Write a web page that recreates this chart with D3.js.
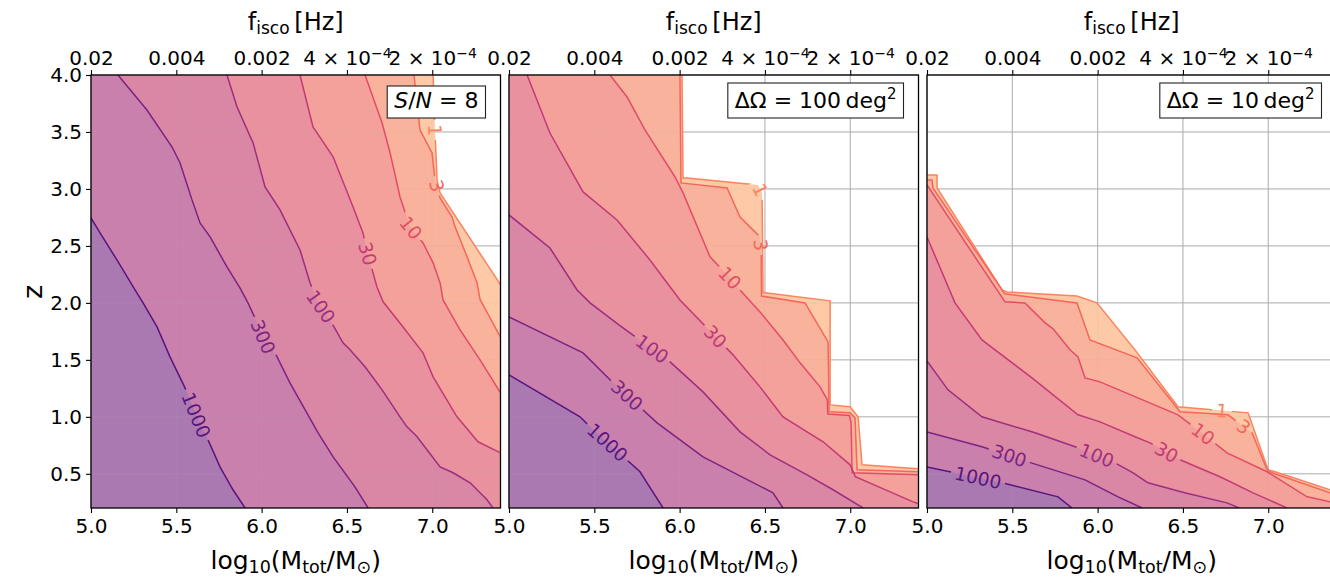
<!DOCTYPE html>
<html><head><meta charset="utf-8">
<script src="https://cdn.jsdelivr.net/npm/d3@7"></script>
<style>
body{margin:0;background:#fff}
svg{display:block}
text{font-family:"DejaVu Sans",sans-serif;fill:#000}
</style>
</head><body>
<svg id="c" width="1330" height="577"></svg>
<script>
// ---------------- data ----------------
const levels = [1, 3, 10, 30, 100, 300, 1000];
const levelLabels = ["1", "3", "10", "30", "100", "300", "1000"];
const xTicks = [5.0, 5.5, 6.0, 6.5, 7.0];
const yTicks = [0.5, 1.0, 1.5, 2.0, 2.5, 3.0, 3.5, 4.0];
const fiscoMantissa = ["0.02", "0.004", "0.002", "4 × 10", "2 × 10"];
const fiscoExponent = ["", "", "", "−4", "−4"];

// contour lines [log10 Mtot, z], one per level (1,3,10,30,100,300,1000)
const contoursSN8 = [
  [[7.005,4.0],[7.016,3.52],[7.028,3.08],[7.046,2.965],[7.40,2.16]],
  [[6.893,4.0],[6.928,3.518],[6.999,3.316],[7.016,3.079],[7.046,2.921],[7.116,2.754],[7.134,2.667],[7.204,2.404],[7.263,2.175],[7.28,2.03],[7.40,1.70]],
  [[6.606,4.0],[6.706,3.579],[6.753,3.316],[6.811,2.930],[6.870,2.667],[6.946,2.526],[7.005,2.351],[7.046,2.175],[7.063,2.026],[7.163,1.763],[7.280,1.500],[7.40,1.21]],
  [[6.225,4.0],[6.301,3.544],[6.419,3.281],[6.536,2.842],[6.594,2.614],[6.618,2.45],[6.676,2.14],[6.712,2.01],[6.829,1.789],[6.946,1.561],[7.005,1.351],[7.145,1.0],[7.268,0.781],[7.40,0.684]],
  [[5.797,4.0],[5.856,3.719],[5.950,3.404],[6.020,3.018],[6.108,2.816],[6.225,2.465],[6.284,2.175],[6.331,2.0],[6.401,1.851],[6.477,1.649],[6.518,1.588],[6.606,1.439],[6.706,1.237],[6.811,1.0],[6.852,0.912],[6.911,0.825],[7.046,0.561],[7.122,0.509],[7.222,0.421],[7.321,0.272],[7.356,0.2]],
  [[5.158,4.0],[5.328,3.693],[5.475,3.368],[5.522,3.228],[5.592,2.904],[5.639,2.702],[5.698,2.579],[5.797,2.316],[5.873,2.132],[5.920,2.0],[5.961,1.868],[6.008,1.702],[6.079,1.561],[6.166,1.298],[6.331,0.860],[6.419,0.649],[6.547,0.386],[6.624,0.2]],
  [[5.0,2.745],[5.053,2.614],[5.152,2.377],[5.258,2.114],[5.305,2.0],[5.387,1.789],[5.463,1.526],[5.551,1.254],[5.621,1.0],[5.686,0.798],[5.756,0.561],[5.832,0.360],[5.903,0.2]]
];
const contoursArea100 = [
  [[6.014,4.0],[6.020,3.096],[6.043,3.096],[6.460,3.035],[6.483,2.965],[6.489,2.088],[6.501,2.088],[6.882,2.018],[6.882,1.105],[6.999,1.088],[7.046,1.0],[7.069,0.579],[7.40,0.544]],
  [[6.002,4.0],[6.008,3.053],[6.278,3.009],[6.354,2.754],[6.471,2.579],[6.478,2.465],[6.480,2.06],[6.735,2.0],[6.870,1.658],[6.876,1.044],[6.999,1.035],[7.028,0.991],[7.040,0.535],[7.40,0.518]],
  [[5.592,4.0],[5.692,3.807],[5.797,3.518],[5.973,3.105],[6.020,2.965],[6.178,2.404],[6.295,2.219],[6.354,2.114],[6.471,1.921],[6.606,1.675],[6.706,1.474],[6.823,1.263],[6.866,1.149],[6.868,1.025],[6.995,1.012],[7.005,0.947],[7.011,0.509],[7.40,0.491]],
  [[5.106,4.0],[5.240,3.491],[5.434,2.974],[5.633,2.728],[5.826,2.377],[6.002,2.026],[6.313,1.544],[6.471,1.263],[6.606,1.0],[6.841,0.781],[6.999,0.579],[7.03,0.475],[7.368,0.254],[7.40,0.237]],
  [[5.0,2.772],[5.240,2.482],[5.399,2.114],[5.475,2.0],[5.65,1.80],[5.944,1.482],[6.137,1.219],[6.354,0.868],[6.530,0.667],[6.747,0.491],[6.899,0.360],[7.075,0.2]],
  [[5.0,1.877],[5.434,1.561],[5.592,1.325],[5.868,0.947],[6.137,0.649],[6.547,0.333],[6.606,0.2]],
  [[5.0,1.368],[5.416,1.0],[5.475,0.912],[5.768,0.518],[5.809,0.421],[5.903,0.2]]
];
const contoursArea10 = [
  [[5.0,3.123],[5.059,3.123],[5.059,3.009],[5.440,2.114],[5.469,2.096],[5.879,2.061],[5.996,2.0],[6.219,1.588],[6.471,1.088],[6.882,1.035],[6.999,0.535],[7.040,0.518],[7.362,0.360],[7.40,0.341]],
  [[5.0,3.079],[5.029,3.079],[5.035,3.009],[5.455,2.08],[5.879,2.0],[5.955,1.675],[6.231,1.518],[6.483,1.044],[6.764,1.018],[6.905,0.860],[6.993,0.535],[7.022,0.509],[7.362,0.333],[7.40,0.313]],
  [[5.0,3.035],[5.457,2.009],[5.574,2.0],[5.692,1.825],[5.739,1.772],[5.838,1.588],[5.885,1.526],[5.926,1.342],[6.014,1.307],[6.471,1.018],[6.618,0.851],[6.758,0.684],[6.993,0.518],[7.228,0.298],[7.362,0.254],[7.40,0.245]],
  [[5.0,2.579],[5.164,2.0],[5.322,1.675],[5.399,1.588],[5.615,1.342],[5.885,1.018],[6.014,0.956],[6.219,0.825],[6.307,0.772],[6.483,0.623],[6.717,0.474],[6.911,0.333],[7.110,0.2]],
  [[5.0,1.49],[5.123,1.237],[5.322,1.0],[5.633,0.860],[5.868,0.737],[6.102,0.596],[6.208,0.509],[6.295,0.421],[6.51,0.333],[6.758,0.245],[6.83,0.2]],
  [[5.0,0.868],[5.322,0.737],[5.592,0.605],[5.926,0.447],[6.120,0.298],[6.261,0.2]],
  [[5.0,0.561],[5.44,0.421],[5.768,0.298],[5.850,0.2]]
];

// inline contour label anchors [log10 Mtot, z], per level
const labelsSN8 = [[7.028,3.518],[7.005,3.018],[6.882,2.667],[6.618,2.43],[6.331,1.95],[6.008,1.702],[5.621,1.018]];
const labelsArea100 = [[6.483,3.0],[6.483,2.509],[6.295,2.219],[6.208,1.702],[5.844,1.605],[5.698,1.2],[5.574,0.77]];
const labelsArea10 = [[6.729,1.06],[6.864,0.93],[6.618,0.851],[6.407,0.70],[5.996,0.667],[5.487,0.68],[5.299,0.466]];

const panelTagSN8 = [["S","it"],["/",""],["N","it"],[" = 8",""]];
const panelTagArea100 = [["ΔΩ = 100\u2009deg",""],["2","sup"]];
const panelTagArea10 = [["ΔΩ = 10\u2009deg",""],["2","sup"]];

// ---------------- style ----------------
const bandColors = ["#fdc9a7","#f9b29c","#f4a19b","#e9919f","#da87a5","#c980ad","#ab79b2"];
const lineT = [0.74, 0.68, 0.61, 0.53, 0.44, 0.36, 0.27];
const lineColors = lineT.map(t => d3.interpolateMagma(t));

const W = 1330, H = 577;
const X0 = 5.0, X1 = 7.4, Y0 = 0.2, Y1 = 4.0;
const panelLeft = [91, 509, 927], PW = 409.5, TOP = 75, BOT = 508;
const panelContours = [contoursSN8, contoursArea100, contoursArea10];
const panelLabelPos = [labelsSN8, labelsArea100, labelsArea10];
const panelTags = [panelTagSN8, panelTagArea100, panelTagArea10];

const svg = d3.select("#c");
const defs = svg.append("defs");

function regionPoly(line) {
  const pts = line.map(p => [p[0], p[1]]);
  const s = pts[0], e = pts[pts.length - 1];
  const ex = 0.05;
  if (e[0] >= X1 - 1e-6) pts.push([X1 + ex, e[1]], [X1 + ex, Y0 - ex]);
  else pts.push([e[0], Y0 - ex]);
  pts.push([X0 - ex, Y0 - ex]);
  if (s[1] >= Y1 - 1e-6) pts.push([X0 - ex, Y1 + ex], [s[0], Y1 + ex]);
  else pts.push([X0 - ex, s[1]]);
  return pts;
}

panelContours.forEach((contours, pi) => {
  const left = panelLeft[pi];
  const x = d3.scaleLinear().domain([X0, X1]).range([left, left + PW]);
  const y = d3.scaleLinear().domain([Y0, Y1]).range([BOT, TOP]);
  const line = d3.line().x(d => x(d[0])).y(d => y(d[1]));
  const g = svg.append("g");
  const clipId = "clip" + pi;
  defs.append("clipPath").attr("id", clipId).append("rect")
    .attr("x", left).attr("y", TOP).attr("width", PW).attr("height", BOT - TOP);

  // grid
  const drawGrid = (op) => {
    const gg = g.append("g").attr("stroke", "#b0b0b0").attr("stroke-width", 1).attr("stroke-opacity", op);
    xTicks.forEach(v => gg.append("line").attr("x1", x(v)).attr("x2", x(v)).attr("y1", TOP).attr("y2", BOT));
    yTicks.forEach(v => gg.append("line").attr("x1", left).attr("x2", left + PW).attr("y1", y(v)).attr("y2", y(v)));
  };
  drawGrid(1);

  // filled bands
  const fills = g.append("g").attr("clip-path", `url(#${clipId})`);
  levels.forEach((L, i) => {
    fills.append("path").attr("d", line(regionPoly(contours[i])) + "Z")
      .attr("fill", bandColors[i]).attr("stroke", "none");
  });
  drawGrid(0.13);

  // contour lines + inline labels
  const lines = g.append("g").attr("clip-path", `url(#${clipId})`);
  const labs = g.append("g");
  const fsz = 18.5;
  levels.forEach((L, i) => {
    const pts = contours[i].map(p => [x(p[0]), y(p[1])]);
    const lp = panelLabelPos[pi][i];
    const qx = x(lp[0]), qy = y(lp[1]);
    let best = null;
    for (let k = 0; k < pts.length - 1; k++) {
      const [ax, ay] = pts[k], [bx, by] = pts[k + 1];
      const dx = bx - ax, dy = by - ay, len2 = dx * dx + dy * dy || 1;
      let t = ((qx - ax) * dx + (qy - ay) * dy) / len2;
      t = Math.max(0, Math.min(1, t));
      const px = ax + t * dx, py = ay + t * dy;
      const d2 = (px - qx) ** 2 + (py - qy) ** 2;
      if (!best || d2 < best.d2) best = {d2, px, py, ang: Math.atan2(dy, dx) * 180 / Math.PI};
    }
    let a = best.ang;
    if (a > 90.5) a -= 180;
    if (a < -89.5) a += 180;
    const txt = levelLabels[i];
    const tw = txt.length * 0.636 * fsz + 8, th = fsz * 0.95;
    const mid = `m${pi}_${i}`;
    const m = defs.append("mask").attr("id", mid).attr("maskUnits", "userSpaceOnUse")
      .attr("x", 0).attr("y", 0).attr("width", W).attr("height", H);
    m.append("rect").attr("x", 0).attr("y", 0).attr("width", W).attr("height", H).attr("fill", "#fff");
    m.append("rect").attr("x", -tw / 2).attr("y", -th / 2).attr("width", tw).attr("height", th)
      .attr("fill", "#000").attr("transform", `translate(${best.px},${best.py}) rotate(${a})`);
    lines.append("path").attr("d", line(contours[i])).attr("fill", "none")
      .attr("stroke", lineColors[i]).attr("stroke-width", 1.5).attr("mask", `url(#${mid})`);
    labs.append("text").attr("transform", `translate(${best.px},${best.py}) rotate(${a})`)
      .attr("text-anchor", "middle").attr("dy", "0.36em").attr("font-size", fsz)
      .style("fill", lineColors[i]).text(txt);
  });

  // frame
  g.append("rect").attr("x", left).attr("y", TOP).attr("width", PW).attr("height", BOT - TOP)
    .attr("fill", "none").attr("stroke", "#000").attr("stroke-width", 1.3);

  // bottom axis
  const gb = g.append("g").attr("transform", `translate(0,${BOT})`)
    .call(d3.axisBottom(x).tickValues(xTicks).tickFormat(d3.format(".1f")).tickSize(5).tickPadding(6));
  // top axis
  const gt = g.append("g").attr("transform", `translate(0,${TOP})`)
    .call(d3.axisTop(x).tickValues(xTicks).tickSize(5).tickPadding(5));
  gt.selectAll(".tick text").each(function(d, i) {
    const t = d3.select(this);
    t.text(null);
    t.append("tspan").text(fiscoMantissa[i]);
    if (fiscoExponent[i]) t.append("tspan").attr("dy", "-0.5em").attr("font-size", "14px").text(fiscoExponent[i]);
  });
  [gb, gt].forEach(a => {
    a.select(".domain").remove();
    a.selectAll(".tick line").attr("stroke", "#000").attr("stroke-width", 1.1);
    a.selectAll(".tick text").attr("font-size", 20).attr("font-family", "DejaVu Sans");
  });
  if (pi === 0) {
    const gl = g.append("g").attr("transform", `translate(${left},0)`)
      .call(d3.axisLeft(y).tickValues(yTicks).tickFormat(d3.format(".1f")).tickSize(5).tickPadding(4));
    gl.select(".domain").remove();
    gl.selectAll(".tick line").attr("stroke", "#000").attr("stroke-width", 1.1);
    gl.selectAll(".tick text").attr("font-size", 20).attr("font-family", "DejaVu Sans");
  }

  // titles
  const cx = left + PW / 2;
  const tt = g.append("text").attr("x", cx).attr("y", 30).attr("text-anchor", "middle").attr("font-size", 24);
  tt.append("tspan").text("f");
  tt.append("tspan").attr("font-size", 17).attr("dy", 4).text("isco");
  tt.append("tspan").attr("dy", -4).text("\u2009[Hz]");

  const xl = g.append("text").attr("x", cx).attr("y", 569).attr("text-anchor", "middle").attr("font-size", 25);
  xl.append("tspan").text("log");
  xl.append("tspan").attr("font-size", 17.5).attr("dy", 4).text("10");
  xl.append("tspan").attr("dy", -4).text("(M");
  xl.append("tspan").attr("font-size", 17.5).attr("dy", 4).text("tot");
  xl.append("tspan").attr("dy", -4).text("/M");
  xl.append("tspan").attr("font-size", 17.5).attr("dy", 4).text("⊙");
  xl.append("tspan").attr("dy", -4).text(")");

  // panel tag box
  const right = left + PW - 15;
  const bg = g.append("g");
  const rect = bg.append("rect");
  const tx = bg.append("text").attr("x", right - 7).attr("y", 108).attr("text-anchor", "end").attr("font-size", 22);
  panelTags[pi].forEach(([s, st]) => {
    const ts = tx.append("tspan").text(s);
    if (st === "it") ts.attr("font-style", "italic");
    if (st === "sup") ts.attr("dy", -9).attr("font-size", 15);
  });
  const bb = tx.node().getBBox();
  rect.attr("x", bb.x - 7).attr("y", pi === 0 ? 86 : 83).attr("width", bb.width + 14)
    .attr("height", pi === 0 ? 32 : 35).attr("fill", "#fff").attr("stroke", "#222").attr("stroke-width", 1.1);
});

// y label
svg.append("text").attr("transform", "translate(42,292) rotate(-90)").attr("text-anchor", "middle")
  .attr("font-size", 27).text("z");
</script>
</body></html>
